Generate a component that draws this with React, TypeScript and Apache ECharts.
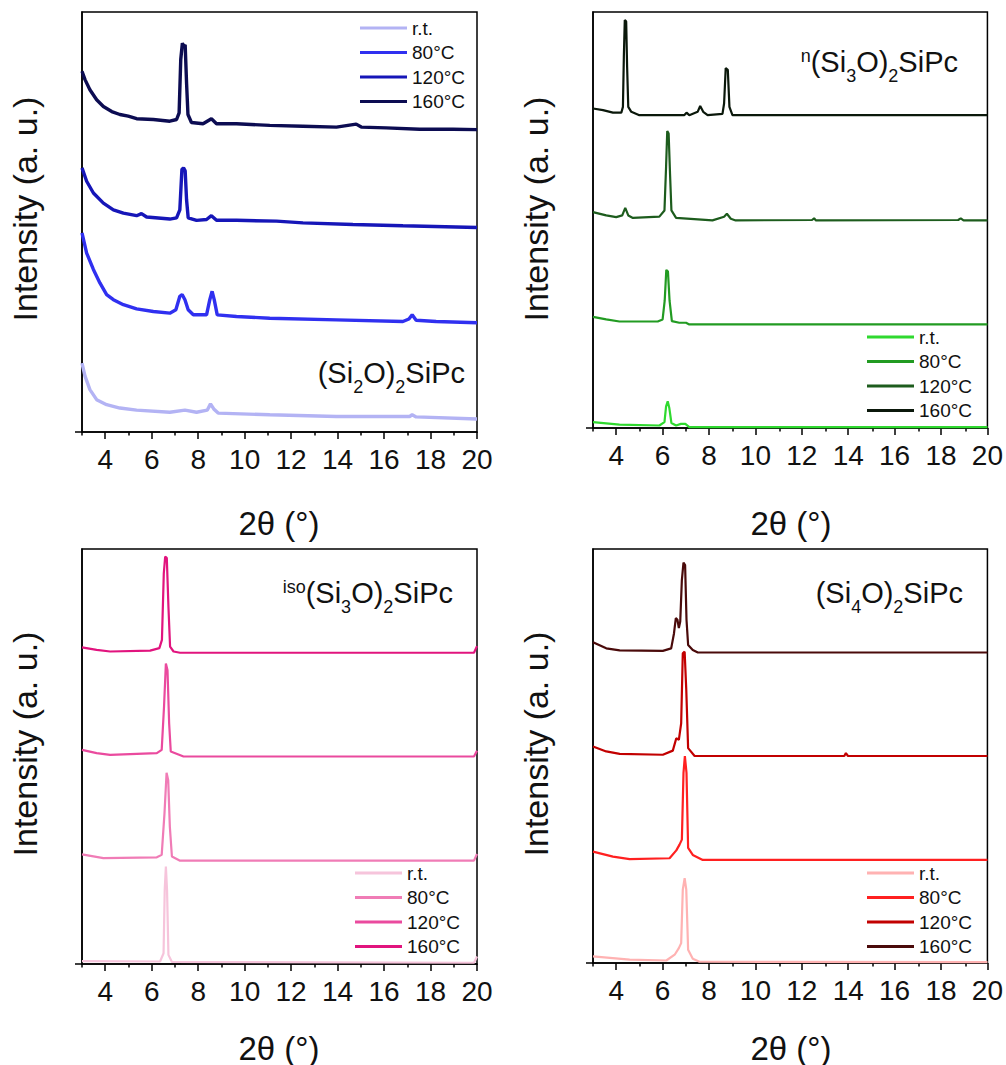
import React, { useEffect, useRef } from "react";
import * as echarts from "echarts";

type Pt = [number, number];

const FONT = "'Liberation Sans', Arial, sans-serif";

// shared axis values
const xMin = 3;
const xMax = 20;
const majorTicks = [4, 6, 8, 10, 12, 14, 16, 18, 20];
const minorTicks = [3, 5, 7, 9, 11, 13, 15, 17, 19];
const tempLabels = ["r.t.", "80°C", "120°C", "160°C"];

// ---------- Panel A: (Si2O)2SiPc ----------
const si2o_rt: Pt[] = [
  [3.0, 16.4], [3.13, 13.3], [3.34, 10.1], [3.63, 7.7], [4.06, 6.5], [4.63, 5.7], [5.35, 5.2],
  [6.78, 4.7], [7.43, 5.2], [7.93, 4.7], [8.39, 5.2], [8.53, 6.7], [8.67, 5.5], [8.86, 4.5],
  [11.08, 4.1], [13.95, 3.7], [17.1, 3.7], [17.21, 4.1], [17.38, 3.6], [20.0, 3.1],
];
const si2o_80: Pt[] = [
  [3.0, 47.4], [3.2, 42.6], [3.49, 38.7], [3.77, 35.5], [4.06, 32.7], [4.35, 31.5], [4.78, 30.3],
  [5.35, 29.3], [6.07, 28.7], [6.78, 28.3], [7.04, 29.1], [7.21, 32.3], [7.31, 32.7], [7.43, 31.5],
  [7.57, 29.1], [7.79, 27.9], [8.36, 27.9], [8.5, 31.5], [8.6, 33.5], [8.69, 31.5], [8.82, 27.9],
  [9.65, 27.5], [11.08, 27.1], [13.95, 26.7], [16.81, 26.3], [17.07, 26.9], [17.21, 27.9],
  [17.38, 26.6], [18.24, 26.3], [20.0, 26.0],
];
const si2o_120: Pt[] = [
  [3.0, 62.9], [3.2, 59.7], [3.49, 56.9], [3.92, 54.5], [4.35, 52.9], [4.78, 52.1], [5.35, 51.5],
  [5.56, 52.0], [5.78, 51.2], [6.78, 50.7], [7.07, 51.0], [7.21, 52.9], [7.3, 62.5], [7.37, 62.9],
  [7.44, 62.2], [7.5, 55.3], [7.57, 51.0], [7.93, 50.4], [8.36, 50.6], [8.57, 51.5], [8.79, 50.4],
  [9.65, 50.4], [11.37, 50.2], [12.51, 49.8], [14.66, 49.4], [16.81, 49.1], [20.0, 48.7],
];
const si2o_160: Pt[] = [
  [3.0, 85.9], [3.13, 83.9], [3.34, 81.5], [3.63, 79.1], [3.92, 77.5], [4.28, 76.3], [4.63, 75.6],
  [4.99, 75.2], [5.35, 74.6], [6.07, 74.4], [6.78, 74.0], [7.07, 74.4], [7.18, 76.0], [7.25, 88.7],
  [7.32, 92.6], [7.38, 91.8], [7.44, 92.2], [7.5, 83.1], [7.56, 75.6], [7.71, 73.7], [8.21, 73.4],
  [8.57, 74.6], [8.79, 73.4], [9.65, 73.4], [11.08, 73.0], [12.51, 72.8], [13.95, 72.6],
  [14.8, 73.3], [15.02, 72.6], [16.09, 72.4], [17.53, 72.1], [18.96, 72.1], [20.0, 72.0],
];

// ---------- Panel B: n(Si3O)2SiPc ----------
const nsi3o_rt: Pt[] = [
  [3.0, 1.4], [4.14, 0.8], [5.86, 0.6], [6.08, 1.4], [6.15, 5.2], [6.22, 6.4], [6.29, 4.8],
  [6.38, 1.2], [6.58, 0.6], [6.79, 1.0], [6.98, 1.0], [7.15, 0.2], [20.0, 0.2],
];
const nsi3o_80: Pt[] = [
  [3.0, 26.7], [3.57, 26.1], [4.14, 25.6], [5.79, 25.6], [6.0, 26.1], [6.09, 30.6], [6.16, 38.0],
  [6.23, 37.6], [6.3, 30.6], [6.4, 25.7], [6.72, 25.3], [7.01, 25.3], [7.15, 24.9], [20.0, 24.9],
];
const nsi3o_120: Pt[] = [
  [3.0, 51.9], [3.57, 51.1], [4.0, 50.7], [4.26, 51.1], [4.39, 52.9], [4.52, 51.1], [4.72, 50.5],
  [5.86, 50.8], [6.08, 52.3], [6.15, 62.8], [6.2, 71.4], [6.26, 70.8], [6.32, 61.1], [6.38, 52.3],
  [6.58, 50.5], [8.15, 49.9], [8.65, 50.8], [8.77, 51.5], [8.94, 50.3], [9.15, 49.9], [12.44, 50.0],
  [12.53, 50.4], [12.61, 49.9], [18.74, 50.0], [18.85, 50.4], [18.97, 49.9], [20.0, 49.9],
];
const nsi3o_160: Pt[] = [
  [3.0, 76.8], [3.43, 76.4], [3.86, 75.8], [4.22, 75.8], [4.29, 77.2], [4.33, 89.3], [4.37, 98.1],
  [4.43, 97.7], [4.47, 86.9], [4.52, 77.2], [4.65, 76.0], [5.0, 75.2], [6.93, 75.2], [7.03, 75.8],
  [7.15, 75.2], [7.51, 76.0], [7.62, 77.4], [7.75, 76.0], [7.94, 75.2], [8.58, 75.5], [8.65, 78.0],
  [8.72, 86.5], [8.81, 86.1], [8.88, 77.2], [9.01, 75.2], [20.0, 75.2],
];

// ---------- Panel C: iso(Si3O)2SiPc ----------
const isosi3o_rt: Pt[] = [
  [3.0, 0.7], [6.36, 0.6], [6.51, 2.6], [6.56, 17.8], [6.61, 23.5], [6.66, 17.8], [6.72, 2.2],
  [6.87, 0.5], [19.87, 0.3], [20.0, 1.8],
];
const isosi3o_80: Pt[] = [
  [3.0, 26.4], [3.92, 25.5], [6.22, 25.7], [6.43, 26.3], [6.55, 36.3], [6.64, 46.1], [6.71, 44.3],
  [6.78, 33.1], [6.87, 25.9], [7.22, 24.9], [19.87, 24.9], [20.0, 26.5],
];
const isosi3o_120: Pt[] = [
  [3.0, 51.6], [3.63, 50.8], [4.21, 50.4], [6.22, 50.8], [6.43, 51.6], [6.53, 62.0], [6.61, 72.4],
  [6.68, 70.8], [6.75, 58.0], [6.82, 51.2], [7.37, 50.0], [19.87, 50.0], [20.0, 51.4],
];
const isosi3o_160: Pt[] = [
  [3.0, 76.3], [3.63, 75.7], [4.21, 75.3], [5.93, 75.5], [6.33, 76.1], [6.44, 78.1], [6.52, 94.1],
  [6.58, 98.2], [6.65, 97.8], [6.72, 86.1], [6.79, 76.5], [6.94, 75.3], [7.22, 75.0],
  [19.87, 75.0], [20.0, 76.6],
];

// ---------- Panel D: (Si4O)2SiPc ----------
const si4o_rt: Pt[] = [
  [3.0, 1.6], [4.58, 0.8], [6.16, 0.6], [6.52, 2.0], [6.7, 3.6], [6.8, 4.8], [6.87, 17.7],
  [6.95, 20.5], [7.02, 17.7], [7.1, 3.2], [7.3, 1.0], [7.59, 0.3], [20.0, 0.2],
];
const si4o_80: Pt[] = [
  [3.0, 26.9], [3.86, 25.7], [4.58, 25.1], [6.3, 25.3], [6.59, 27.2], [6.73, 28.6], [6.83, 29.8],
  [6.9, 45.9], [6.96, 50.0], [7.03, 45.9], [7.1, 27.8], [7.3, 26.1], [7.73, 24.9], [20.0, 24.9],
];
const si4o_120: Pt[] = [
  [3.0, 52.3], [3.57, 51.1], [4.15, 50.5], [6.01, 50.3], [6.44, 51.3], [6.59, 54.3], [6.7, 53.9],
  [6.8, 57.9], [6.87, 74.8], [6.95, 75.2], [7.02, 66.0], [7.1, 51.9], [7.38, 50.0], [13.83, 50.0],
  [13.9, 50.7], [13.99, 50.0], [20.0, 50.0],
];
const si4o_160: Pt[] = [
  [3.0, 77.5], [3.57, 76.0], [4.15, 75.5], [6.01, 75.4], [6.37, 76.0], [6.49, 79.6], [6.57, 83.3],
  [6.64, 82.9], [6.7, 80.9], [6.76, 82.5], [6.83, 92.5], [6.9, 96.7], [6.97, 96.1], [7.03, 82.9],
  [7.1, 76.8], [7.3, 75.6], [7.52, 75.0], [20.0, 75.0],
];

const panelData: Pt[][][] = [
  [si2o_rt, si2o_80, si2o_120, si2o_160],
  [nsi3o_rt, nsi3o_80, nsi3o_120, nsi3o_160],
  [isosi3o_rt, isosi3o_80, isosi3o_120, isosi3o_160],
  [si4o_rt, si4o_80, si4o_120, si4o_160],
];

const panelColors = [
  ["#b3b3f4", "#3030f0", "#1616b8", "#0c0c52"],
  ["#2fd92f", "#229b22", "#1d5c1d", "#0b180b"],
  ["#f6c4db", "#f07cb6", "#ea4a9e", "#e1147e"],
  ["#ffb2b2", "#ff2020", "#c20000", "#4a0a0a"],
];

const panelLineWidth = [3.4, 2.2, 2.2, 2.2];

// compound labels (rich text)
const compoundLabels = [
  "{m|(Si}{s|2}{m|O)}{s|2}{m|SiPc}",
  "{p|n}{m|(Si}{s|3}{m|O)}{s|2}{m|SiPc}",
  "{p|iso}{m|(Si}{s|3}{m|O)}{s|2}{m|SiPc}",
  "{m|(Si}{s|4}{m|O)}{s|2}{m|SiPc}",
];

// layout
const grids = [
  { left: 82, top: 12, width: 395, height: 420 },
  { left: 593, top: 12, width: 396, height: 416 },
  { left: 82, top: 549, width: 395, height: 415 },
  { left: 593, top: 549, width: 396, height: 414 },
];
const legendPos = [
  { left: 360, top: 18 },
  { left: 867, top: 327 },
  { left: 355, top: 863 },
  { left: 867, top: 863 },
];
const titlePos = [
  { right: 541, top: 358 },
  { right: 48, top: 47 },
  { right: 553, top: 578 },
  { right: 43, top: 578 },
];
const yNamePos = [
  [25, 209],
  [536, 209],
  [25, 744],
  [536, 744],
];
const xNamePos = [
  [279, 523],
  [791, 523],
  [279, 1048],
  [791, 1048],
];

export default function App() {
  const ref = useRef<HTMLDivElement>(null);

  useEffect(() => {
    if (!ref.current) return;
    const chart = echarts.init(ref.current, undefined, { renderer: "svg" });

    const gridOpts: any[] = [];
    const xAxes: any[] = [];
    const yAxes: any[] = [];
    const series: any[] = [];
    const legends: any[] = [];
    const titles: any[] = [];
    const graphics: any[] = [];

    for (let p = 0; p < 4; p++) {
      gridOpts.push({
        ...grids[p],
        show: true,
        borderColor: "#000",
        borderWidth: 1.5,
        backgroundColor: "transparent",
        containLabel: false,
      });
      xAxes.push({
        type: "value",
        gridIndex: p,
        min: xMin,
        max: xMax,
        axisLine: { show: true, onZero: false, lineStyle: { color: "#000", width: 1.5 } },
        axisTick: {
          show: true,
          customValues: majorTicks,
          length: 7,
          inside: false,
          lineStyle: { color: "#000", width: 1.5 },
        },
        axisLabel: {
          show: true,
          customValues: majorTicks,
          fontSize: 28,
          fontFamily: FONT,
          color: "#111",
          margin: 13,
        },
        splitLine: { show: false },
      });
      yAxes.push({
        type: "value",
        gridIndex: p,
        min: 0,
        max: 100,
        axisLine: { show: true, onZero: false, lineStyle: { color: "#000", width: 1.5 } },
        axisTick: {
          show: true,
          customValues: [0],
          length: 7,
          lineStyle: { color: "#000", width: 1.5 },
        },
        axisLabel: { show: false },
        splitLine: { show: false },
      });
      const names: string[] = [];
      for (let i = 0; i < 4; i++) {
        const name = `${p}|${tempLabels[i]}`;
        names.push(name);
        series.push({
          type: "line",
          name,
          xAxisIndex: p,
          yAxisIndex: p,
          data: panelData[p][i],
          symbol: "none",
          showSymbol: false,
          silent: true,
          clip: true,
          lineStyle: { width: panelLineWidth[p], color: panelColors[p][i] },
          itemStyle: { color: panelColors[p][i] },
        });
      }
      legends.push({
        orient: "vertical",
        ...legendPos[p],
        padding: 0,
        icon: "rect",
        itemWidth: 47,
        itemHeight: 3,
        itemGap: 4.5,
        selectedMode: false,
        data: names,
        formatter: (n: string) => n.split("|")[1],
        textStyle: { fontSize: 19, fontFamily: FONT, color: "#111", lineHeight: 20 },
      });
      titles.push({
        text: compoundLabels[p],
        ...titlePos[p],
        padding: 0,
        textStyle: {
          fontFamily: FONT,
          fontSize: 29,
          fontWeight: "normal",
          color: "#111",
          rich: {
            m: { fontFamily: FONT, fontSize: 29, lineHeight: 38, color: "#111", verticalAlign: "top" },
            s: { fontFamily: FONT, fontSize: 18, lineHeight: 18, color: "#111", verticalAlign: "bottom" },
            p: { fontFamily: FONT, fontSize: 18, lineHeight: 14, color: "#111", verticalAlign: "top" },
          },
        },
      });
      graphics.push({
        type: "text",
        x: yNamePos[p][0],
        y: yNamePos[p][1],
        rotation: Math.PI / 2,
        style: {
          text: "Intensity (a. u.)",
          font: `34px ${FONT}`,
          fill: "#111",
          textAlign: "center",
          textVerticalAlign: "middle",
        },
      });
      graphics.push({
        type: "text",
        x: xNamePos[p][0],
        y: xNamePos[p][1],
        style: {
          text: "2θ (°)",
          font: `33px ${FONT}`,
          fill: "#111",
          textAlign: "center",
          textVerticalAlign: "middle",
        },
      });
    }

    // overlay grids carrying the minor ticks
    for (let p = 0; p < 4; p++) {
      gridOpts.push({ ...grids[p], show: false, containLabel: false });
      xAxes.push({
        type: "value",
        gridIndex: p + 4,
        min: xMin,
        max: xMax,
        axisLine: { show: false, onZero: false },
        axisTick: {
          show: true,
          customValues: minorTicks,
          length: 3.5,
          inside: false,
          lineStyle: { color: "#000", width: 1.5 },
        },
        axisLabel: { show: false },
        splitLine: { show: false },
      });
      yAxes.push({ type: "value", gridIndex: p + 4, min: 0, max: 100, show: false });
    }

    chart.setOption({
      animation: false,
      backgroundColor: "#fff",
      title: titles,
      legend: legends,
      grid: gridOpts,
      xAxis: xAxes,
      yAxis: yAxes,
      series,
      graphic: { elements: graphics },
    });

    return () => chart.dispose();
  }, []);

  return (
    <div
      ref={ref}
      style={{ position: "absolute", left: 0, top: 0, width: 1006, height: 1065 }}
    />
  );
}
